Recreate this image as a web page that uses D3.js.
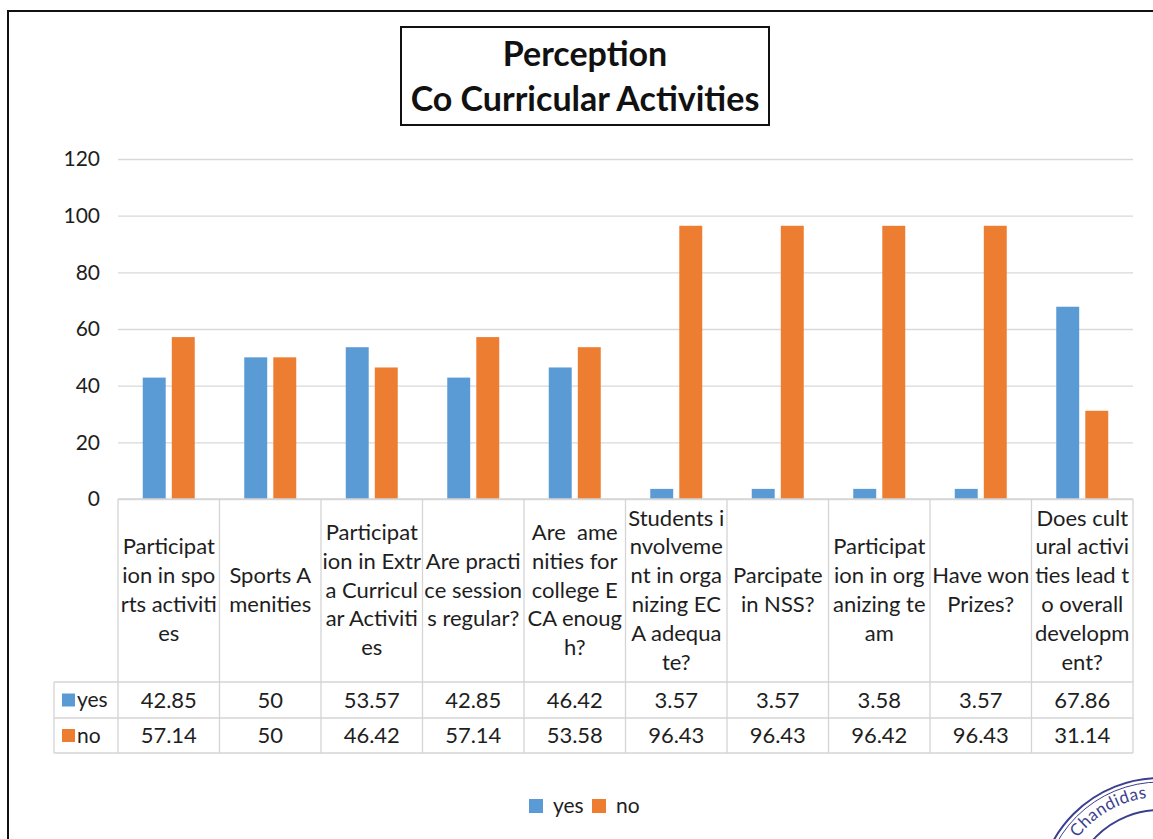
<!DOCTYPE html>
<html>
<head>
<meta charset="utf-8">
<script src="https://cdn.jsdelivr.net/npm/d3@7"></script>
<style>
	body { margin: 0; background: #fff; }
	svg { display: block; font-family: Lato, "Open Sans", sans-serif; }
</style>
</head>
<body>
<div id="chart"></div>
<script>
// chart data
const categories = [
	["Participat", "ion in spo", "rts activiti", "es"],
	["Sports A", "menities"],
	["Participat", "ion in Extr", "a Curricul", "ar Activiti", "es"],
	["Are practi", "ce session", "s regular?"],
	["Are  ame", "nities for", "college E", "CA enoug", "h?"],
	["Students i", "nvolveme", "nt in orga", "nizing EC", "A adequa", "te?"],
	["Parcipate", "in NSS?"],
	["Participat", "ion in org", "anizing te", "am"],
	["Have won", "Prizes?"],
	["Does cult", "ural activi", "ties lead t", "o overall", "developm", "ent?"]
];
const yesValues = ["42.85", "50", "53.57", "42.85", "46.42", "3.57", "3.57", "3.58", "3.57", "67.86"];
const noValues = ["57.14", "50", "46.42", "57.14", "53.58", "96.43", "96.43", "96.42", "96.43", "31.14"];
const seriesNames = ["yes", "no"];
const yTicks = [0, 20, 40, 60, 80, 100, 120];

const colors = {yes: "#5b9bd5", no: "#ed7d31"};
const series = {yes: yesValues, no: noValues};

const width = 1153, height = 839;
const plot = {left: 118, right: 1133, top: 159, bottom: 499};
const rows = {labelBottom: 682, yesBottom: 718, noBottom: 753, headerLeft: 54};
const textColor = "#1e1e1e";

const svg = d3.select("#chart")
	.append("svg")
	.attr("width", width)
	.attr("height", height);

// outer frame (only top and left edges are on the page)
svg.append("path")
	.attr("d", `M8,${height + 5}V11H${width + 5}`)
	.attr("fill", "none")
	.attr("stroke", "#111")
	.attr("stroke-width", 2);

// title box
svg.append("rect")
	.attr("x", 401).attr("y", 27)
	.attr("width", 368).attr("height", 98)
	.attr("fill", "#fff")
	.attr("stroke", "#111")
	.attr("stroke-width", 2);

svg.selectAll("text.title")
	.data(["Perception", "Co Curricular Activities"])
	.enter()
	.append("text")
	.attr("class", "title")
	.attr("x", 585)
	.attr("y", (d, i) => 66 + i * 45)
	.attr("text-anchor", "middle")
	.attr("font-size", 34)
	.attr("font-weight", "bold")
	.attr("fill", "#111")
	.text(d => d);

// scales
const y = d3.scaleLinear()
	.domain([0, 120])
	.range([plot.bottom, plot.top]);

const x0 = d3.scaleBand()
	.domain(d3.range(categories.length))
	.range([plot.left, plot.right])
	.padding(0);

const groupWidth = 52;
const x1 = d3.scaleBand()
	.domain(seriesNames)
	.range([(x0.bandwidth() - groupWidth) / 2, (x0.bandwidth() + groupWidth) / 2])
	.paddingInner(0.21);

// gridlines + y tick labels
const yAxis = svg.append("g")
	.attr("transform", `translate(${plot.left},0)`)
	.call(d3.axisLeft(y)
		.tickValues(yTicks)
		.tickSize(-(plot.right - plot.left))
		.tickPadding(18));

yAxis.select(".domain").remove();
yAxis.selectAll(".tick line")
	.attr("stroke", "#d9d9d9")
	.attr("stroke-width", 1.3);
yAxis.selectAll(".tick text")
	.attr("font-size", 21)
	.attr("fill", textColor)
	.attr("font-family", "Lato, sans-serif");

// bars
const groups = svg.selectAll("g.cat")
	.data(categories)
	.enter()
	.append("g")
	.attr("class", "cat")
	.attr("transform", (d, i) => `translate(${x0(i)},0)`);

groups.selectAll("rect")
	.data((d, i) => seriesNames.map(s => ({key: s, value: +series[s][i]})))
	.enter()
	.append("rect")
	.attr("x", d => x1(d.key))
	.attr("y", d => y(d.value))
	.attr("width", x1.bandwidth())
	.attr("height", d => y(0) - y(d.value))
	.attr("fill", d => colors[d.key]);

// data table
const tableColor = "#d4d4d4";
const table = svg.append("g").attr("stroke", tableColor).attr("stroke-width", 1.3);

table.append("line")
	.attr("x1", plot.left).attr("x2", plot.right)
	.attr("y1", plot.bottom).attr("y2", plot.bottom);

[rows.labelBottom, rows.yesBottom, rows.noBottom].forEach(yy => {
	table.append("line")
		.attr("x1", rows.headerLeft).attr("x2", plot.right)
		.attr("y1", yy).attr("y2", yy);
});

table.append("line")
	.attr("x1", rows.headerLeft).attr("x2", rows.headerLeft)
	.attr("y1", rows.labelBottom).attr("y2", rows.noBottom);

table.selectAll("line.col")
	.data(d3.range(categories.length + 1))
	.enter()
	.append("line")
	.attr("class", "col")
	.attr("x1", i => i < categories.length ? x0(i) : plot.right)
	.attr("x2", i => i < categories.length ? x0(i) : plot.right)
	.attr("y1", plot.bottom)
	.attr("y2", rows.noBottom);

// category labels in the table
const lineHeight = 28.8;
const labelMid = (plot.bottom + rows.labelBottom) / 2;

groups.append("text")
	.attr("text-anchor", "middle")
	.attr("font-size", 22)
	.attr("fill", textColor)
	.style("white-space", "pre")
	.each(function (lines) {
		const t = d3.select(this);
		const startY = labelMid - (lines.length - 1) * lineHeight / 2 + 7;
		lines.forEach((line, k) => {
			t.append("tspan")
				.attr("x", x0.bandwidth() / 2)
				.attr("y", startY + k * lineHeight)
				.text(line);
		});
	});

// value rows
const rowTops = {yes: rows.labelBottom, no: rows.yesBottom};
seriesNames.forEach(s => {
	const mid = (rowTops[s] + (s === "yes" ? rows.yesBottom : rows.noBottom)) / 2;

	svg.append("rect")
		.attr("x", 62).attr("y", mid - 6.5)
		.attr("width", 13).attr("height", 13)
		.attr("fill", colors[s]);

	svg.append("text")
		.attr("x", 77).attr("y", mid + 7)
		.attr("font-size", 21)
		.attr("fill", textColor)
		.text(s);

	svg.selectAll(null)
		.data(series[s])
		.enter()
		.append("text")
		.attr("x", (d, i) => x0(i) + x0.bandwidth() / 2)
		.attr("y", mid + 7.5)
		.attr("text-anchor", "middle")
		.attr("font-size", 22)
		.attr("fill", textColor)
		.text(d => d);
});

// legend
const legend = svg.append("g").attr("transform", "translate(529,799)");
const legendItems = legend.selectAll("g")
	.data(seriesNames)
	.enter()
	.append("g")
	.attr("transform", (d, i) => `translate(${i * 63},0)`);

legendItems.append("rect")
	.attr("width", 14).attr("height", 14)
	.attr("fill", d => colors[d]);

legendItems.append("text")
	.attr("x", 24).attr("y", 14)
	.attr("font-size", 21)
	.attr("fill", textColor)
	.text(d => d);

// stamp in the corner
const stampColor = "#3c3f8f";
const stamp = svg.append("g")
	.attr("transform", "translate(1160,900)")
	.attr("fill", "none")
	.attr("stroke", stampColor);

stamp.append("circle").attr("r", 122).attr("stroke-width", 2);
stamp.append("circle").attr("r", 118).attr("stroke-width", 1);
stamp.append("circle").attr("r", 90).attr("stroke-width", 2);

const arcPath = d3.path();
const toRad = deg => (deg - 90) * Math.PI / 180;
arcPath.moveTo(103 * Math.cos(toRad(-53)), 103 * Math.sin(toRad(-53)));
arcPath.arc(0, 0, 103, toRad(-53), toRad(-5));

stamp.append("path")
	.attr("id", "stampArc")
	.attr("d", arcPath.toString())
	.attr("stroke", "none");

stamp.append("text")
	.attr("fill", stampColor)
	.attr("stroke", "none")
	.attr("font-size", 17)
	.attr("letter-spacing", 0.5)
	.append("textPath")
	.attr("href", "#stampArc")
	.text("Chandidas");
</script>
</body>
</html>
